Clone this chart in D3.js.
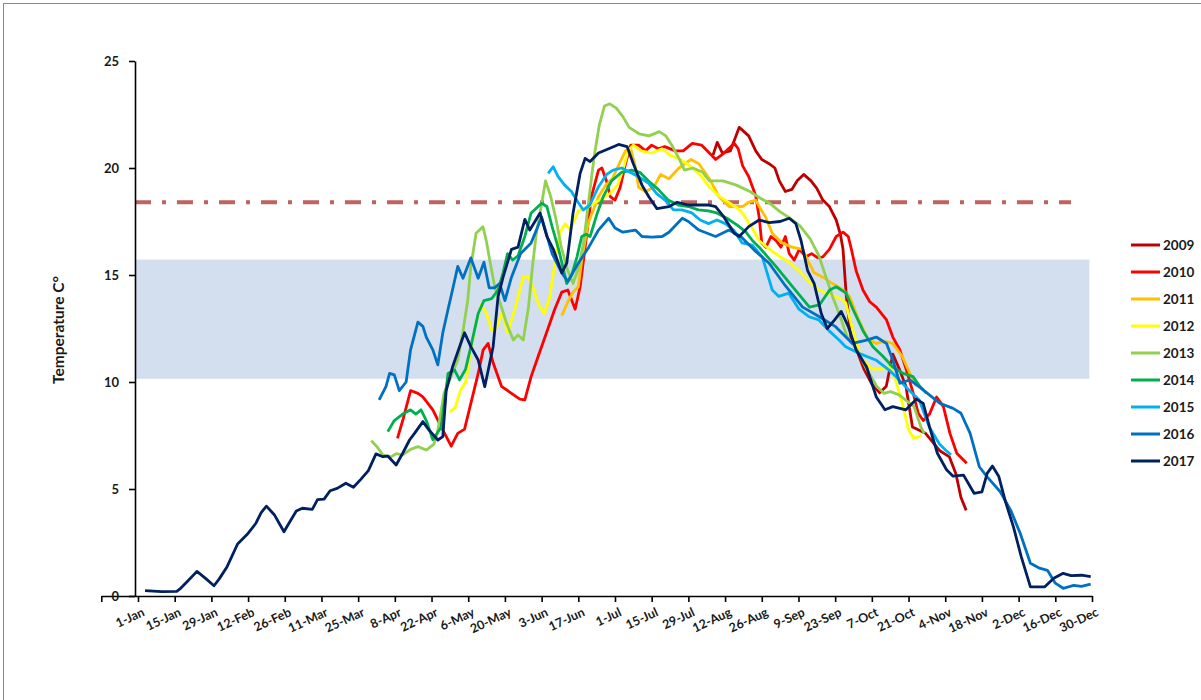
<!DOCTYPE html>
<html>
<head>
<meta charset="utf-8">
<script src="https://cdn.jsdelivr.net/npm/d3@7"></script>
<style>
  body { margin: 0; background: #fff; }
  #viz text { font-family: Lato, "Open Sans", sans-serif; font-weight: 700; fill: #1a1a1a; }
</style>
</head>
<body>
<div id="viz"></div>
<script>
// DATA (day of year, temperature C)
let y2009 = [[219.4,20.6],[221,21.2],[223,20.7],[226,20.8],[229.4,21.9],[233,21.5],[235.7,20.8],[238,20.4],[240.8,20.2],[243,20.0],[244.7,19.4],[247,18.9],[249.5,19.0],[251.5,19.4],[254,19.7],[256.8,19.4],[259,19.05],[261.3,18.5],[263.8,18.2],[266.4,17.57],[268,16.9],[269,16.2],[270.2,14.1],[271,13.2],[272,12.1],[274.5,11.4],[277,10.6],[280,9.9],[283,9.5],[285.5,9.8],[288,11.3],[290.5,10.6],[293,9.8],[295.5,7.9],[300.5,7.6],[305.8,6.8],[309.6,6.5],[312.1,5.7],[314,4.6],[316,4.0]];

let y2010 = [[99,7.37],[101,8.2],[104,9.6],[106.8,9.47],[108.7,9.3],[112.5,8.7],[115.7,7.9],[119.5,7.0],[122,7.6],[124.6,7.8],[127,9.0],[129.8,10.4],[131.7,11.5],[133.6,11.8],[135.5,10.9],[138.7,9.8],[142.5,9.47],[145.7,9.2],[147.6,9.16],[150,10.25],[152.7,11.2],[155.3,12.1],[159,13.4],[161.7,14.2],[164,14.3],[166.8,13.4],[168.7,14.45],[170.6,16.3],[173,18.66],[175.7,19.9],[177,20.0],[179,19.3],[180.2,18.66],[182,18.5],[184,19.1],[186,20.2],[188,21.07],[191,21.07],[193.6,20.8],[196,21.07],[198.5,20.9],[201,21.0],[205,20.8],[208,20.8],[211.5,21.15],[215,21.07],[218,20.7],[220.4,20.4],[223.6,20.7],[227.5,21.15],[229,20.9],[230.7,20.1],[233,19.6],[235.7,18.7],[237,17.7],[238,16.5],[239.6,16.3],[241.5,16.8],[243.5,16.6],[245.3,16.3],[247,16.8],[248.5,16.0],[250.4,15.7],[252.3,16.2],[254.9,15.85],[257,16.0],[259.4,15.8],[261.3,15.85],[263.8,16.2],[266.4,16.8],[269,17.0],[271,16.8],[272.2,16.2],[274,15.2],[276.6,14.3],[279.2,13.75],[281.7,13.5],[285.6,12.9],[288,12.1],[290.7,11.5],[293.2,10.56],[295.8,9.47],[297.7,8.54],[299.6,8.2],[302,8.5],[304.7,9.3],[307.3,8.85],[309.8,7.6],[312.4,6.67],[316.2,6.2]];

let y2011 = [[161.7,13.1],[164,13.75],[166,14.2],[168,14.45],[169.5,15.85],[171.7,17.4],[175.7,18.66],[178.5,19.2],[181,19.5],[184,20.3],[186,20.8],[188,20.9],[189.5,20.2],[191,19.1],[193.6,18.9],[196.8,19.1],[199.4,19.7],[202.6,19.5],[206.4,20.0],[211,20.4],[214,20.2],[218,19.5],[221.7,18.66],[225.5,18.2],[230.7,18.2],[233,18.4],[235.7,18.5],[237,18.2],[239.5,17.7],[242,16.95],[245.8,16.5],[249.6,16.3],[253.6,16.2],[255.5,15.7],[258,15.1],[261.3,14.9],[265,14.6],[269,14.3],[271.5,14.0],[275,12.9],[278.5,12.0],[281.7,11.8],[285,11.9],[288,11.8],[291.6,11.2],[294.5,10.4],[297,9.8]];

let y2012 = [[119,8.6],[121,8.8],[123,9.6],[125,10.0],[127,11.5],[129,12.8],[131,13.6],[133,13.2],[135,12.4],[137,12.6],[139,13.3],[141,12.3],[144,13.5],[147,14.9],[149,14.9],[151,14.3],[153,13.6],[155,13.2],[157,13.9],[159,15.5],[161,17.0],[163,17.4],[165,17.1],[168,18.0],[172,18.2],[176,18.5],[180,18.8],[183,19.2],[185,19.9],[187,20.8],[189,21.07],[192,20.8],[196,20.7],[200,20.9],[203,20.6],[207,20.4],[211,20.06],[215,19.6],[218,19.1],[222,18.66],[226,18.35],[230,18.0],[234,17.26],[237,16.6],[241,16.2],[245,15.85],[249,15.55],[253,15.1],[256,14.7],[260,14.3],[264,14.1],[268,13.9],[270,13.7],[273,12.3],[276,11.1],[280,10.6],[284,10.6],[287,10.7],[289,10.1],[292,8.85],[294,7.76],[296,7.37],[299,7.48]];

let y2013 = [[89,7.26],[91,7.0],[93.4,6.6],[96.5,6.5],[98.5,6.65],[101,6.6],[104,6.85],[106.8,6.98],[110,6.82],[112.9,7.1],[114.2,7.6],[116.8,9.47],[119.4,10.25],[122,11.03],[123.9,12.3],[125.8,13.8],[127,15.4],[129,16.95],[131.6,17.26],[132.9,16.6],[134.2,15.7],[136.1,14.45],[138.7,13.5],[140.6,12.75],[143.2,11.96],[145,12.2],[147,11.96],[149,13.5],[150.6,15.5],[152,16.95],[153.4,17.9],[155.5,19.4],[157.4,18.7],[159.5,17.6],[161.5,16.3],[164,15.2],[166,14.6],[168,15.3],[170,16.5],[172,18.5],[174,20.5],[176,22.0],[178,22.9],[180,23.0],[182.5,22.8],[185,22.4],[187.4,21.9],[191.2,21.6],[195,21.5],[198.9,21.7],[201.4,21.5],[204,21.0],[206.6,20.4],[208.5,19.9],[211.7,20.0],[215.5,19.8],[218,19.4],[223.2,19.4],[228.3,19.2],[233.5,18.9],[237.3,18.6],[241.1,18.35],[244.9,17.96],[248.8,17.65],[252.6,17.3],[256.4,16.7],[259.8,15.9],[262.5,14.9],[265,14.0],[267.5,13.2],[270.6,12.1],[274.4,11.5],[278.2,10.56],[282,9.78],[284.6,9.47],[287.1,9.55],[290.4,9.4],[293.5,9.1],[296.1,8.85],[298.7,7.9],[300,7.6]];

let y2014 = [[95.3,7.68],[97.8,8.2],[101,8.5],[104,8.7],[106,8.5],[108,8.7],[110,8.2],[112.5,7.3],[115.7,7.9],[118.3,10.4],[120.8,10.56],[122.7,10.1],[125,10.6],[127,11.65],[129.8,13.2],[132,13.8],[135,13.9],[137.4,14.3],[139.3,15.1],[141,16.0],[143,15.7],[145,15.9],[147.6,16.8],[150,17.9],[154,18.35],[156,18.2],[158,17.26],[160.5,16.2],[163.6,14.6],[165.5,15.0],[167.5,15.85],[169.3,16.8],[171,16.9],[172.5,16.8],[175,17.8],[177.5,18.66],[180.7,19.4],[184.5,19.8],[188.3,19.9],[191.5,19.8],[194.7,19.4],[198.5,19.0],[202.3,18.5],[206.2,18.27],[210,18.2],[213.8,18.04],[217.6,18.0],[220.8,17.9],[224.7,17.65],[228.5,17.34],[232,17.0],[234.5,16.6],[237,16.3],[243.4,15.4],[249.8,14.45],[256.2,13.5],[260,13.6],[263.9,14.3],[266.4,14.45],[270.2,14.15],[272.8,13.4],[276.6,12.4],[280.4,11.65],[284.2,11.2],[288,10.7],[291.9,10.4],[295.7,10.25],[298.3,9.8],[300.9,9.47]];

let y2015 = [[156.5,19.75],[158.4,20.06],[160.3,19.6],[162.8,19.2],[165.4,18.9],[167.9,18.4],[169.9,18.04],[172.4,18.27],[175.6,19.1],[178.8,19.7],[181.3,19.9],[184.5,20.0],[187.7,19.8],[190.9,19.6],[194.7,19.3],[197.9,18.8],[201.1,18.5],[204.3,18.04],[207.5,18.04],[211.3,17.9],[214.5,17.57],[217.7,17.4],[220.9,17.57],[224.1,17.4],[227.3,17.1],[230.5,16.5],[234.3,16.4],[238.2,15.85],[242,14.3],[244.5,14.0],[248.3,14.15],[252.2,13.4],[256,13.05],[259.8,12.9],[263.6,12.4],[267.5,11.96],[270,11.65],[275.1,11.34],[281.5,11.03],[286.6,10.56],[290.4,10.1],[294.3,9.6],[298.1,9.16],[301.9,7.9],[305.8,7.1],[308.3,6.8],[310.2,6.6]];

let y2016 = [[92,9.16],[94.6,9.78],[96,10.4],[97.8,10.33],[99.7,9.6],[102.3,10.0],[104,11.5],[106.8,12.8],[108.7,12.6],[110,12.1],[112.5,11.5],[114.4,10.8],[116.3,12.3],[118.3,13.4],[120,14.3],[122,15.4],[124,14.85],[127,15.8],[129.8,14.85],[132,15.6],[134,14.4],[136,14.4],[138,14.6],[140,13.8],[142.5,14.9],[146,16.0],[150,16.5],[154,17.7],[158,16.0],[161.7,15.1],[164,14.7],[168,15.55],[172,16.3],[175.7,17.1],[179.6,17.65],[182,17.2],[185,17.0],[189.8,17.1],[192.3,16.8],[196,16.77],[200,16.8],[202.6,17.0],[207.7,17.65],[210,17.5],[214,17.1],[220.4,16.8],[225.5,17.1],[230,16.8],[235.7,16.1],[240.8,15.55],[247,14.5],[253.6,13.5],[260,13.05],[266,12.6],[272.6,11.8],[278,11.96],[281.7,12.1],[285.6,11.8],[288,11.03],[290.7,9.94],[294.5,10.1],[298,9.78],[306,9.0],[311,8.77],[314,8.54],[317.5,7.6],[321,6.04],[324,5.57],[329,4.87],[333,4.0],[336.6,2.93],[340.5,1.53],[344,1.3],[347,1.2],[350,0.6],[353,0.36],[357,0.5],[360,0.45],[363.5,0.55]];

let y2017 = [[2.7,0.25],[9,0.2],[14.8,0.22],[16,0.33],[19,0.7],[22.5,1.15],[26,0.8],[29,0.48],[31,0.8],[34,1.37],[38,2.43],[41.6,2.87],[45,3.4],[47,3.9],[49,4.2],[52,3.8],[55.7,3.0],[57.6,3.4],[60.4,3.97],[62.7,4.1],[66.5,4.05],[68.5,4.5],[71,4.53],[73.3,4.92],[76,5.03],[79.3,5.27],[82.2,5.08],[85,5.45],[87.9,5.86],[90.8,6.64],[93.4,6.51],[95.3,6.54],[98.5,6.12],[101,6.67],[103.6,7.29],[105.5,7.6],[108.7,8.15],[111,7.76],[114.4,7.29],[116.3,7.45],[117.6,9.6],[120,10.7],[122.7,11.65],[124.6,12.3],[127,11.65],[129.8,11.03],[132.3,9.78],[135.5,11.65],[137.4,14.0],[139.3,14.9],[142.5,16.2],[145,16.3],[147.6,17.6],[149.5,17.1],[153.4,17.9],[156,16.8],[158.5,16.2],[161.7,15.1],[163.6,15.55],[166,17.9],[168.7,19.75],[170.6,20.45],[172.5,20.3],[175.7,20.7],[179.6,20.9],[183.4,21.1],[186.6,21.0],[189,20.2],[192.3,19.2],[194.9,18.66],[198,18.1],[202.6,18.2],[205.7,18.4],[210,18.27],[217.9,18.27],[220.4,18.2],[223.6,17.7],[227.5,16.95],[229.4,16.8],[233,17.26],[237,17.57],[240.8,17.45],[245,17.5],[248.5,17.65],[251,17.4],[253,16.6],[255.5,15.2],[258,14.6],[260.7,13.2],[263,12.5],[265.8,12.9],[268.3,13.3],[271,12.6],[274,11.5],[278,10.7],[281.7,9.3],[285,8.7],[288,8.85],[293,8.7],[297,9.2],[299.6,9.0],[302,7.9],[305,6.67],[308.5,5.9],[311,5.6],[315,5.65],[319,4.8],[322,4.87],[324,5.73],[326,6.07],[328.4,5.6],[331,4.4],[334,3.24],[337,1.84],[340.5,0.43],[346,0.43],[349.4,0.83],[353,1.06],[356,0.95],[360,0.97],[363.5,0.9]];

let years = ["2009", "2010", "2011", "2012", "2013", "2014", "2015", "2016", "2017"];
let seriesData = [y2009, y2010, y2011, y2012, y2013, y2014, y2015, y2016, y2017];
let YEAR_COLORS = ["#c00000", "#ff0000", "#ffc000", "#ffff00", "#92d050", "#00b050", "#00b0f0", "#0070c0", "#002060"];

let tickDays = [-14, 0, 14, 28, 42, 56, 70, 84, 98, 112, 126, 140, 154, 168, 182, 196, 210, 224, 238, 252, 266, 280, 294, 308, 322, 336, 350, 364];
let tickLabels = ["", "1-Jan", "15-Jan", "29-Jan", "12-Feb", "26-Feb", "11-Mar", "25-Mar", "8-Apr", "22-Apr", "6-May", "20-May", "3-Jun", "17-Jun", "1-Jul", "15-Jul", "29-Jul", "12-Aug", "26-Aug", "9-Sep", "23-Sep", "7-Oct", "21-Oct", "4-Nov", "18-Nov", "2-Dec", "16-Dec", "30-Dec"];
let yTicks = [0, 5, 10, 15, 20, 25];

let bandRange = [10.15, 15.72];   // shaded band
let limitTemp = 18.4;             // dash-dot line

let width = 1201, height = 700;
let axisX = 135;

var svg = d3.select("#viz")
            .append("svg")
            .attr("width", width)
            .attr("height", height);

// frame
svg.append("rect")
   .attr("x", 3.5).attr("y", 3.5)
   .attr("width", width + 20).attr("height", height + 20)
   .attr("fill", "none")
   .attr("stroke", "#8a8a8a")
   .attr("stroke-width", 1);

let x = d3.scaleLinear()
          .domain([-14, 364])
          .range([101.3, 1092]);

let y = d3.scaleLinear()
          .domain([0, 25])
          .range([596, 61]);

// BAND
svg.append("rect")
   .attr("x", axisX)
   .attr("y", y(bandRange[1]))
   .attr("width", x(363) - axisX)
   .attr("height", y(bandRange[0]) - y(bandRange[1]))
   .attr("fill", "#d3deee");

// LIMIT LINE
svg.append("line")
   .attr("x1", axisX).attr("x2", x(356))
   .attr("y1", y(limitTemp)).attr("y2", y(limitTemp))
   .attr("stroke", "#b9524f")
   .attr("stroke-width", 4)
   .attr("stroke-dasharray", "16,11,4,11")
   .attr("opacity", 0.9);

// LINES
let line = d3.line()
             .x(d => x(d[0]))
             .y(d => y(d[1]));

svg.append("g")
   .selectAll("path")
   .data(seriesData)
   .enter().append("path")
   .attr("d", d => line(d))
   .attr("fill", "none")
   .attr("stroke", (d, i) => YEAR_COLORS[i])
   .attr("stroke-width", 2.8)
   .attr("stroke-linejoin", "round");

// AXES
let xAxis = svg.append("g")
   .attr("transform", "translate(0," + y(0) + ")")
   .call(d3.axisBottom(x)
           .tickValues(tickDays)
           .tickFormat((d, i) => tickLabels[i])
           .tickSize(6)
           .tickSizeOuter(0));

xAxis.selectAll("text")
     .attr("font-size", "12.5px")
     .attr("text-anchor", "end")
     .attr("dy", 0)
     .attr("transform", "translate(3,11) rotate(-25)");

let yAxis = svg.append("g")
   .attr("transform", "translate(" + axisX + ",0)")
   .call(d3.axisLeft(y)
           .tickValues(yTicks)
           .tickSize(6)
           .tickSizeOuter(0)
           .tickPadding(10));

yAxis.selectAll("text").attr("font-size", "13px");

svg.selectAll(".domain, .tick line")
   .attr("stroke", "#000")
   .attr("stroke-width", 1.6);

svg.append("text")
   .attr("transform", "translate(59,330) rotate(-90)")
   .attr("text-anchor", "middle")
   .attr("dy", "0.35em")
   .attr("font-size", "15.5px")
   .text("Temperature C°");

// LEGEND
let legend = svg.append("g")
   .selectAll("g")
   .data(years)
   .enter().append("g")
   .attr("transform", (d, i) => "translate(1131," + (245 + i * 27) + ")");

legend.append("line")
      .attr("x1", 0).attr("x2", 29)
      .attr("stroke", (d, i) => YEAR_COLORS[i])
      .attr("stroke-width", 3);

legend.append("text")
      .attr("x", 32)
      .attr("dy", "0.35em")
      .attr("font-size", "13.5px")
      .text(d => d);
</script>
</body>
</html>
